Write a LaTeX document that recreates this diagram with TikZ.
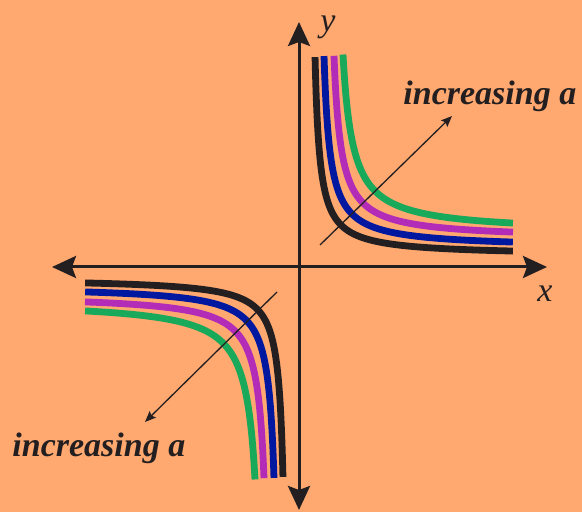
\documentclass[tikz,border=0pt]{standalone}
\usepackage{fontspec}
\setmainfont{Liberation Serif}
\usepackage{tikz}
\usetikzlibrary{arrows.meta}

\definecolor{bgorange}{RGB}{255,168,112}
\definecolor{inkblack}{RGB}{35,31,32}
\definecolor{curveblue}{RGB}{0,24,160}
\definecolor{curvemagenta}{RGB}{178,44,184}
\definecolor{curvegreen}{RGB}{24,170,90}

\tikzset{
    axis/.style={line width=1.5pt, inkblack, {Stealth[length=12pt,width=11pt,inset=2pt]}-{Stealth[length=12pt,width=11pt,inset=2pt]}},
    curve/.style={line width=3.4pt, line cap=butt},
    pointer/.style={line width=0.65pt, inkblack, -{Stealth[length=5.5pt,width=4.5pt,inset=1pt]}},
    lbl/.style={inner sep=0pt, text=inkblack, font=\fontsize{17}{20}\selectfont\bfseries\itshape},
    axlbl/.style={inner sep=0pt, text=inkblack, font=\fontsize{17}{20}\selectfont\itshape}
}

\begin{document}
\begin{tikzpicture}[x=0.5pt, y=0.5pt]
    \fill[bgorange] (-299,-245) rectangle (283,267);

    \coordinate (o) at (0,0);

    \coordinate (xl) at (-247,0);
    \coordinate (xr) at (248,0);
    \coordinate (yb) at (0,-243);
    \coordinate (yt) at (0,245);

    \coordinate (p1) at (21,22);
    \coordinate (q1) at (153,151);
    \coordinate (p3) at (-22,-25);
    \coordinate (q3) at (-154,-155);

    % the curves, one per value of a
    \foreach \c/\s/\xs/\col in {11.3/30.7/16/inkblack, 19/34/25/curveblue, 27.9/36.1/35/curvemagenta, 34.2/41.8/44/curvegreen} {
        \pgfmathsetmacro{\ta}{ln((\xs-\c)/\s)}
        \pgfmathsetmacro{\tb}{ln((214-\c)/\s)}
        \draw[curve, \col] plot[domain=\ta:\tb, samples=90] ({\c+\s*exp(\x)}, {\c+\s*exp(-\x)});
        \draw[curve, \col] plot[domain=\ta:\tb, samples=90] ({-\c-\s*exp(\x)}, {-\c-\s*exp(-\x)});
    }

    \draw[axis] (xl) -- (xr);
    \draw[axis] (yb) -- (yt);

    \node[axlbl] (xlab) at (246,-27) {x};
    \node[axlbl] (ylab) at (29,240) {y};

    \draw[pointer] (p1) -- (q1);
    \draw[pointer] (p3) -- (q3);

    \node[lbl, anchor=base west] (inc1) at (104,162) {increasing a};
    \node[lbl, anchor=base west] (inc3) at (-287,-190) {increasing a};
\end{tikzpicture}
\end{document}
